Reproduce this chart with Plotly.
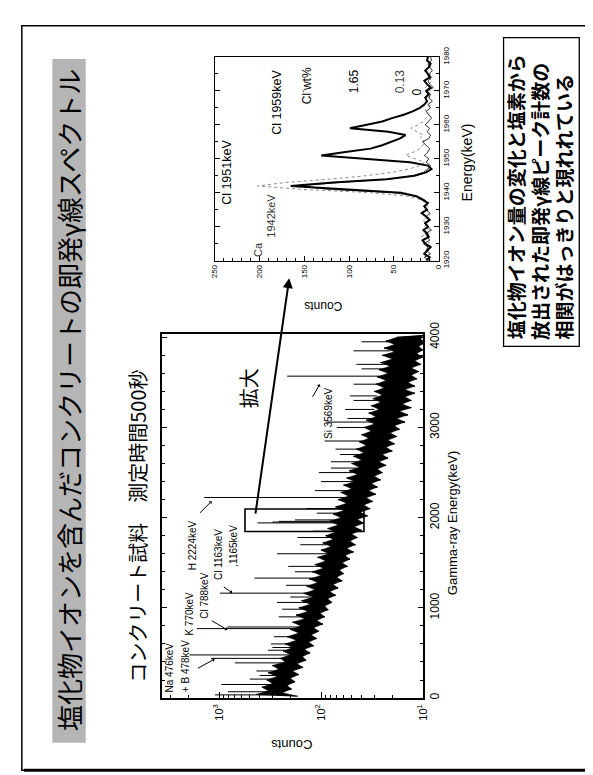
import plotly.graph_objects as go
import math

W, H = 593, 775

# ---------------- data ----------------
# main spectrum (Gamma-ray energy keV -> counts), read at 20 keV steps
spec_energy = [
    20, 40, 60, 80, 100, 120, 140, 160, 180, 200,
    220, 240, 260, 280, 300, 320, 340, 360, 380, 400,
    420, 440, 460, 480, 500, 520, 540, 560, 580, 600,
    620, 640, 660, 680, 700, 720, 740, 760, 780, 800,
    820, 840, 860, 880, 900, 920, 940, 960, 980, 1000,
    1020, 1040, 1060, 1080, 1100, 1120, 1140, 1160, 1180, 1200,
    1220, 1240, 1260, 1280, 1300, 1320, 1340, 1360, 1380, 1400,
    1420, 1440, 1460, 1480, 1500, 1520, 1540, 1560, 1580, 1600,
    1620, 1640, 1660, 1680, 1700, 1720, 1740, 1760, 1780, 1800,
    1820, 1840, 1860, 1880, 1900, 1920, 1940, 1960, 1980, 2000,
    2020, 2040, 2060, 2080, 2100, 2120, 2140, 2160, 2180, 2200,
    2220, 2240, 2260, 2280, 2300, 2320, 2340, 2360, 2380, 2400,
    2420, 2440, 2460, 2480, 2500, 2520, 2540, 2560, 2580, 2600,
    2620, 2640, 2660, 2680, 2700, 2720, 2740, 2760, 2780, 2800,
    2820, 2840, 2860, 2880, 2900, 2920, 2940, 2960, 2980, 3000,
    3020, 3040, 3060, 3080, 3100, 3120, 3140, 3160, 3180, 3200,
    3220, 3240, 3260, 3280, 3300, 3320, 3340, 3360, 3380, 3400,
    3420, 3440, 3460, 3480, 3500, 3520, 3540, 3560, 3580, 3600,
    3620, 3640, 3660, 3680, 3700, 3720, 3740, 3760, 3780, 3800,
    3820, 3840, 3860, 3880, 3900, 3920, 3940, 3960, 3980, 4000,
    4020,
]
spec_counts = [
    170, 430, 240, 330, 195, 380, 215, 300, 180, 340,
    200, 270, 165, 330, 190, 260, 150, 300, 172, 225,
    140, 250, 152, 200, 128, 235, 145, 190, 118, 225,
    132, 175, 110, 215, 125, 165, 105, 200, 118, 158,
    96, 190, 110, 145, 92, 175, 102, 135, 85, 165,
    92, 128, 78, 155, 86, 120, 72, 148, 82, 115,
    68, 138, 76, 108, 62, 130, 70, 100, 60, 122,
    66, 95, 55, 115, 62, 90, 52, 108, 58, 84,
    48, 100, 56, 80, 46, 96, 52, 76, 44, 90,
    50, 72, 40, 86, 47, 68, 38, 82, 44, 64,
    35, 76, 41, 60, 33, 72, 38, 56, 31, 68,
    36, 54, 29, 64, 34, 50, 28, 60, 32, 47,
    26, 56, 30, 44, 25, 53, 28, 42, 23, 50,
    27, 40, 22, 48, 25, 38, 20, 45, 23, 36,
    19, 42, 22, 34, 18, 40, 21, 32, 17, 38,
    19, 30, 15, 36, 18, 29, 14, 34, 17, 27,
    13, 32, 16, 26, 13, 31, 15, 25, 12, 30,
    15, 24, 12, 29, 14, 23, 11.5, 28, 13, 22,
    11, 27, 13, 21, 10.5, 26, 12, 20, 10, 25,
    11.5, 19, 10, 24, 11, 19, 9.5, 23, 10.5, 18,
    10,
]

# peaks rising out of the continuum
spike_energy = [35, 70, 150, 210, 250, 300, 390, 440, 478, 530, 560, 600, 680, 770, 788,
                900, 985, 1060, 1120, 1163, 1250, 1330, 1400, 1460, 1600, 1700, 1780,
                1850, 1942, 1951, 1959, 1975, 2050, 2100, 2224, 2300, 2400, 2500, 2550,
                2620, 2700, 2760, 2850, 3000, 3060, 3100, 3200, 3300, 3350, 3480, 3569,
                3650, 3700, 3850, 3950]
spike_base = [300, 300, 290, 280, 270, 260, 220, 200, 200, 190, 190, 190, 170, 165, 160,
              150, 140, 130, 125, 120, 110, 105, 100, 95, 85, 80, 76,
              72, 70, 70, 70, 70, 64, 60, 55, 50, 48, 45, 44,
              42, 40, 38, 36, 32, 32, 31, 30, 28, 28, 26, 25,
              23, 22, 21, 20]
spike_peak = [1100, 820, 950, 500, 400, 430, 700, 1200, 1950, 330, 300, 310, 290, 1650, 830,
              260, 240, 270, 200, 980, 220, 450, 180, 210, 270, 160, 170,
              120, 420, 300, 260, 180, 110, 140, 1400, 115, 100, 105, 80,
              80, 65, 72, 92, 70, 88, 55, 58, 48, 52, 48, 215,
              40, 45, 48, 40]

main_ticks = [10, 100, 1000]
main_ticktext = ["10<sup>1</sup>", "10<sup>2</sup>", "10<sup>3</sup>"]
main_minor = [20, 30, 40, 50, 60, 70, 80, 90, 200, 300, 400, 500, 600, 700,
              800, 900, 2000, 3000]
energy_ticks = [0, 1000, 2000, 3000, 4000]

# inset: Cl 1951/1959 keV region for three Cl- wt% samples
inset_energy = [1920, 1921, 1922, 1923, 1924, 1925, 1926, 1927, 1928, 1929,
                1930, 1931, 1932, 1933, 1934, 1935, 1936, 1937, 1938, 1939,
                1940, 1941, 1942, 1943, 1944, 1945, 1946, 1947, 1948, 1949,
                1950, 1951, 1952, 1953, 1954, 1955, 1956, 1957, 1958, 1959,
                1960, 1961, 1962, 1963, 1964, 1965, 1966, 1967, 1968, 1969,
                1970, 1971, 1972, 1973, 1974, 1975, 1976, 1977, 1978, 1979,
                1980]
inset_cl165 = [14, 10, 16, 12, 9, 15, 18, 11, 13, 17, 12, 15, 10, 14, 19, 13, 16, 12,
               18, 25, 42, 98, 165, 118, 58, 27, 14, 8,
               12, 32, 82, 131, 104, 76, 63, 52, 43, 37,
               56, 99, 82, 63, 52, 39, 29, 21, 16, 13,
               15, 11, 14, 9, 13, 16, 10, 12, 15, 11, 9, 13, 12]
inset_cl013 = [8, 13, 18, 11, 15, 9, 14, 20, 12, 10, 16, 13, 18, 11, 9, 15, 12, 14,
               20, 35, 75, 152, 202, 172, 122, 82, 52, 33,
               21, 16, 26, 37, 28, 21, 18, 15, 21, 17,
               24, 31, 23, 17, 14, 11, 16, 12, 9, 14,
               10, 13, 8, 15, 11, 7, 12, 9, 14, 10, 8, 12, 11]
inset_cl0 = [11, 16, 9, 14, 12, 17, 10, 13, 15, 8, 12, 16, 11, 14, 10, 13, 17, 12,
             16, 24, 50, 122, 158, 112, 56, 29, 17, 12,
             9, 14, 11, 16, 12, 10, 14, 18, 11, 9,
             13, 10, 15, 12, 8, 11, 14, 9, 12, 7,
             11, 9, 13, 6, 10, 12, 8, 11, 7, 10, 12, 8, 9]
inset_count_ticks = [0, 50, 100, 150, 200, 250]
inset_energy_ticks = [1920, 1930, 1940, 1950, 1960, 1970, 1980]

# ---------------- helpers ----------------
def px(x):
    return x / W


def py(y):
    return 1 - y / H


JP = "Noto Sans CJK JP"
EN = "Liberation Sans"

fig = go.Figure()

# solid body of the noisy continuum: polygon through the upper and lower swings
hi_c, hi_e = spec_counts[1::2], spec_energy[1::2]
lo_c, lo_e = spec_counts[0::2], spec_energy[0::2]
fig.add_trace(go.Scatter(x=hi_c + lo_c[::-1], y=hi_e + lo_e[::-1], mode="lines",
                         fill="toself", fillcolor="black", line=dict(color="black", width=0.5),
                         xaxis="x", yaxis="y", hoverinfo="skip", showlegend=False))
fig.add_trace(go.Scatter(x=spec_counts, y=spec_energy, mode="lines",
                         line=dict(color="black", width=1),
                         xaxis="x", yaxis="y", hoverinfo="skip", showlegend=False))
sx, sy = [], []
for e, b, p in zip(spike_energy, spike_base, spike_peak):
    sx += [b, p, None]
    sy += [e, e, None]
fig.add_trace(go.Scatter(x=sx, y=sy, mode="lines", line=dict(color="black", width=1),
                         xaxis="x", yaxis="y", hoverinfo="skip", showlegend=False))

fig.add_trace(go.Scatter(x=inset_cl013, y=inset_energy, mode="lines",
                         line=dict(color="#8c8c8c", width=1, dash="dot"),
                         xaxis="x2", yaxis="y2", showlegend=False))
fig.add_trace(go.Scatter(x=inset_cl0, y=inset_energy, mode="lines",
                         line=dict(color="black", width=0.8),
                         xaxis="x2", yaxis="y2", showlegend=False))
fig.add_trace(go.Scatter(x=inset_cl165, y=inset_energy, mode="lines",
                         line=dict(color="black", width=2),
                         xaxis="x2", yaxis="y2", showlegend=False))

axis_common = dict(showgrid=False, zeroline=False, showline=True, linecolor="black",
                   linewidth=1.5, ticks="inside", tickcolor="black")

# plot frames (pixel positions on the page)
MAIN_L, MAIN_R, MAIN_T, MAIN_B = 153, 418, 322, 696
INS_L, INS_R, INS_T, INS_B = 206, 434, 38, 247

fig.update_layout(
    width=W, height=H, margin=dict(l=0, r=0, t=0, b=0),
    paper_bgcolor="white", plot_bgcolor="rgba(0,0,0,0)",
    font=dict(family=EN, color="black"),
    xaxis=dict(axis_common, type="log", range=[math.log10(3600), 1],
               domain=[px(MAIN_L), px(MAIN_R)], anchor="y", side="bottom", mirror=True,
               tickvals=main_ticks, ticktext=main_ticktext, tickangle=-90,
               ticklen=6, tickfont=dict(size=11),
               minor=dict(tickvals=main_minor, ticks="inside", ticklen=3, tickcolor="black")),
    yaxis=dict(axis_common, range=[0, 4040], domain=[py(MAIN_B), py(MAIN_T)], anchor="x",
               side="right", mirror="ticks", tickvals=energy_ticks, tickangle=-90,
               ticklen=5, tickfont=dict(size=12),
               minor=dict(dtick=200, ticks="inside", ticklen=3, tickcolor="black")),
    xaxis2=dict(axis_common, range=[250, 0], domain=[px(INS_L), px(INS_R)], anchor="y2",
                side="bottom", mirror=True, tickvals=inset_count_ticks, tickangle=-90,
                ticklen=5, tickfont=dict(size=8), linewidth=1.2,
                minor=dict(dtick=10, ticks="inside", ticklen=3, tickcolor="black")),
    yaxis2=dict(axis_common, range=[1920, 1980], domain=[py(INS_B), py(INS_T)], anchor="x2",
                side="right", mirror="ticks", tickvals=inset_energy_ticks, tickangle=-90,
                ticklen=5, tickfont=dict(size=8), linewidth=1.2,
                minor=dict(dtick=5, ticks="inside", ticklen=3, tickcolor="black")),
)

shapes = [
    # slide border
    dict(type="rect", xref="paper", yref="paper", x0=px(10), x1=px(588), y0=py(770), y1=py(6),
         line=dict(color="black", width=1.5)),
    dict(type="line", xref="paper", yref="paper", x0=px(588), x1=px(588), y0=py(770), y1=py(8),
         line=dict(color="black", width=3)),
    dict(type="line", xref="paper", yref="paper", x0=px(12), x1=px(588), y0=py(770), y1=py(770),
         line=dict(color="black", width=3)),
    # title bar
    dict(type="rect", xref="paper", yref="paper", x0=px(41), x1=px(75), y0=py(742), y1=py(40),
         fillcolor="#b5b5b5", line=dict(width=0)),
    # zoom box on the main spectrum
    dict(type="rect", xref="paper", yref="paper", x0=px(237), x1=px(358), y0=py(525), y1=py(502),
         line=dict(color="black", width=1.6)),
    # comment box
    dict(type="rect", xref="paper", yref="paper", x0=px(500), x1=px(577), y0=py(335), y1=py(18),
         line=dict(color="black", width=1.3)),
]
fig.update_layout(shapes=shapes)


def txt(text, x, y, size, family=EN, angle=-90, xa="center", ya="middle", color="black"):
    return dict(text=text, x=px(x), y=py(y), xref="paper", yref="paper", showarrow=False,
                textangle=angle, xanchor=xa, yanchor=ya,
                font=dict(size=size, family=family, color=color))


def arrow(x_head, y_head, x_tail, y_tail, width=1, head=1, size=0.7):
    return dict(text="", x=px(x_head), y=py(y_head), xref="paper", yref="paper",
                ax=x_tail - x_head, ay=y_tail - y_head, showarrow=True,
                arrowhead=head, arrowsize=size, arrowwidth=width, arrowcolor="black")


ann = [
    txt("塩化物イオンを含んだコンクリートの即発γ線スペクトル", 58, 390, 26, JP),
    txt("コンクリート試料　測定時間500秒", 128, 682, 20, JP, ya="bottom"),
    # main plot texts
    txt("Na 476keV", 160, 692, 10, ya="bottom"),
    txt("+ B 478keV", 176, 692, 10, ya="bottom"),
    txt("K 770keV", 181, 634, 10, ya="bottom"),
    txt("Cl 788keV", 195, 617, 10, ya="bottom"),
    txt("Cl 1163keV", 210, 577, 10, ya="bottom"),
    txt(",1165keV", 225, 563, 10, ya="bottom"),
    txt("H 2224keV", 183, 567, 10, ya="bottom"),
    txt("Si 3569keV", 322, 432, 10, ya="bottom"),
    txt("拡大", 240, 378, 20, JP),
    txt("Gamma-ray Energy(keV)", 448, 516, 13),
    txt("Counts", 284, 743, 13, angle=180),
    # inset texts
    txt("Cl 1951keV", 218, 192, 12.5, ya="bottom"),
    txt("Cl 1959keV", 270, 120, 12.5, ya="bottom"),
    txt("Cl<sup>-</sup>wt%", 299, 88, 12, ya="bottom"),
    txt("1.65", 348, 77, 12, ya="bottom"),
    txt("0.13", 395, 77, 12, ya="bottom", color="#444"),
    txt("0", 412, 80, 12, ya="bottom"),
    txt("Ca", 250, 245, 11, ya="bottom", color="#333"),
    txt("1942keV", 264, 226, 11, ya="bottom", color="#333"),
    txt("Energy(keV)", 463, 146, 14),
    txt("Counts", 317, 293, 12, angle=180),
    # comment box
    txt("<b>塩化物イオン量の変化と塩素から</b>", 513, 330, 19, JP, ya="bottom"),
    txt("<b>放出された即発γ線ピーク計数の</b>", 537, 330, 19, JP, ya="bottom"),
    txt("<b>相関がはっきりと現れれている</b>", 561, 330, 19, JP, ya="bottom"),
    # arrows
    arrow(282, 265, 248, 502, width=2, head=2, size=1),
    arrow(206, 656, 188, 666),
    arrow(219, 626, 202, 616),
    arrow(224, 588, 214, 581),
    arrow(203, 494, 190, 507),
    arrow(313, 374, 305, 388),
]
fig.update_layout(annotations=ann)

fig.write_html("out.html")
